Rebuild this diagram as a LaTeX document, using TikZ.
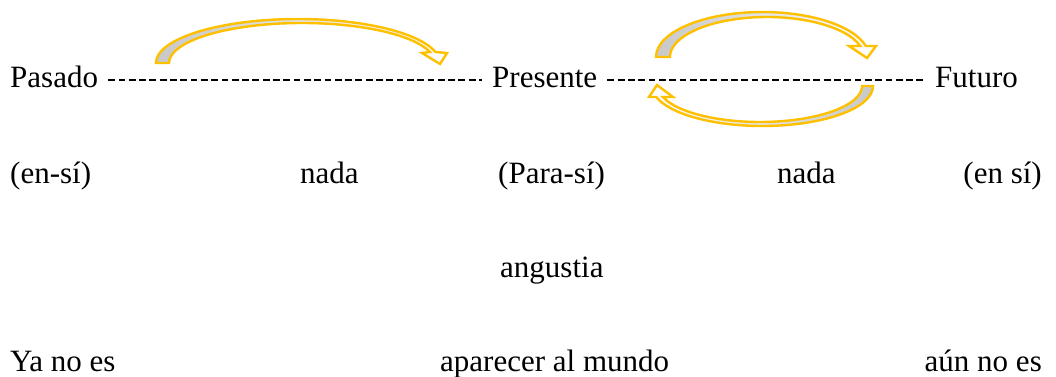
\documentclass[tikz,border=0pt]{standalone}
\usepackage{fontspec}
\setmainfont{Liberation Serif}
\usepackage{tikz}
\usetikzlibrary{calc}
\definecolor{arrowgold}{HTML}{FFC000}
\definecolor{arrowgray}{HTML}{C8C8C8}
\tikzset{
  word/.style    ={inner sep=0pt,anchor=base west,font=\fontsize{31}{37}\selectfont},
  wordend/.style ={inner sep=0pt,anchor=base east,font=\fontsize{31}{37}\selectfont},
  timeline/.style={line width=2.4pt,dash pattern=on 6.8pt off 3.5pt},
  bendarrow/.style={draw=arrowgold,line width=2.4pt,line join=miter}
}
\begin{document}
\begin{tikzpicture}[x=1pt,y=-1pt]
  \useasboundingbox (0,0) rectangle (1056,376);
  % time line
  \node[word] (pasado)   at (10,87)  {Pasado};
  \node[word] (presente) at (492,87) {Presente};
  \node[word] (futuro)   at (935,87) {Futuro};
  \draw[timeline] ([xshift=10pt,yshift=7pt]pasado.base east)
    -- ([xshift=-10pt,yshift=7pt]presente.base west);
  \draw[timeline] ([xshift=10pt,yshift=7pt]presente.base east)
    -- ([xshift=-10pt,yshift=7pt]futuro.base west);
  % second row
  \node[word] (ensi)    at (10,183)  {(en-sí)};
  \node[word] (nada1)   at (300,183) {nada};
  \node[word] (parasi)  at (498,183) {(Para-sí)};
  \node[word] (nada2)   at (777,183) {nada};
  \node[wordend] (ensi2) at (1042,183) {(en sí)};
  \node[word] (angustia) at (500,277) {angustia};
  % last row
  \node[word] (yanoes)   at (10,371)  {Ya no es};
  \node[word] (aparecer) at (440,371) {aparecer al mundo};
  \node[wordend] (aunnoes) at (1042,371) {aún no es};
  % curved arrows
  \path[bendarrow,left color=arrowgray,right color=white] (156,63)
    arc[start angle=180,end angle=14.5,x radius=142pt,y radius=44pt]
    -- (447,53) -- (440,64) -- (422,53) -- (429.9,52)
    arc[start angle=15.96,end angle=180,x radius=133pt,y radius=40pt] -- cycle;
  \path[bendarrow,left color=arrowgray,right color=white] (656,57)
    arc[start angle=180,end angle=14.1,x radius=106.5pt,y radius=45pt]
    -- (876,46) -- (867,58) -- (849,46) -- (860.2,46)
    arc[start angle=15.96,end angle=180,x radius=97pt,y radius=40pt] -- cycle;
  \path[bendarrow,left color=white,right color=arrowgray] (873,86)
    arc[start angle=0,end angle=-164.04,x radius=110.5pt,y radius=40pt]
    -- (649,97) -- (657,85) -- (673,97) -- (662.9,97)
    arc[start angle=-162.18,end angle=0,x radius=102pt,y radius=36pt] -- cycle;
\end{tikzpicture}
\end{document}
